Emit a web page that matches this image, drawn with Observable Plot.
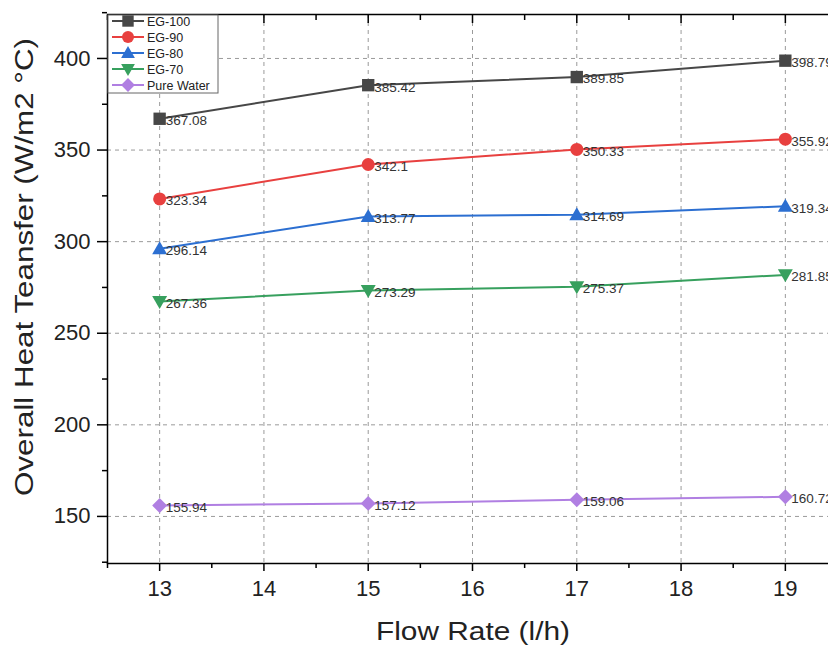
<!DOCTYPE html>
<html><head><meta charset="utf-8">
<script src="https://cdn.jsdelivr.net/npm/d3@7"></script>
<script src="https://cdn.jsdelivr.net/npm/@observablehq/plot@0.6"></script>
<style>
html,body{margin:0;padding:0;background:#fff;overflow:hidden;width:828px;height:647px}
#chart{position:relative;width:828px;height:647px;overflow:hidden}
#chart svg{max-width:none !important;}
</style></head><body><div id="chart"></div>
<script>
const flowRates = [13, 15, 17, 19];
const seriesNames = ["EG-100", "EG-90", "EG-80", "EG-70", "Pure Water"];
const eg100 = [367.08, 385.42, 389.85, 398.79];
const eg90 = [323.34, 342.1, 350.33, 355.92];
const eg80 = [296.14, 313.77, 314.69, 319.34];
const eg70 = [267.36, 273.29, 275.37, 281.85];
const pureWater = [155.94, 157.12, 159.06, 160.72];
const seriesColors = ["#474747", "#e8403f", "#2c6fd1", "#37a05e", "#b07fe2"];
const xTicks = [13, 14, 15, 16, 17, 18, 19];
const xMinor = [12.5, 13.5, 14.5, 15.5, 16.5, 17.5, 18.5, 19.5];
const yTicks = [150, 200, 250, 300, 350, 400];
const yMinor = [125, 175, 225, 275, 325, 375, 425];
const xTitle = "Flow Rate (l/h)";
const yTitle = "Overall Heat Teansfer (W/m2 °C)";

const seriesValues = [eg100, eg90, eg80, eg70, pureWater];

function rOf(size){ return Math.sqrt(size/Math.PI); }
const symSquare = {draw(ctx,size){const s=rOf(size)*0.95; ctx.rect(-s,-s,2*s,2*s);}};
const symCircle = {draw(ctx,size){const r=rOf(size); ctx.moveTo(r,0); ctx.arc(0,0,r,0,2*Math.PI);}};
const symTriUp = {draw(ctx,size){const r=rOf(size); ctx.moveTo(0,-r*1.15); ctx.lineTo(r*1.15,r*0.85); ctx.lineTo(-r*1.15,r*0.85); ctx.closePath();}};
const symTriDown = {draw(ctx,size){const r=rOf(size); ctx.moveTo(0,r*1.15); ctx.lineTo(r*1.15,-r*0.85); ctx.lineTo(-r*1.15,-r*0.85); ctx.closePath();}};
const symDiamond = {draw(ctx,size){const r=rOf(size)*1.15; ctx.moveTo(0,-r); ctx.lineTo(r,0); ctx.lineTo(0,r); ctx.lineTo(-r,0); ctx.closePath();}};
const symbols = [symSquare, symCircle, symTriUp, symTriDown, symDiamond];

const rows = seriesNames.flatMap((s,i)=>flowRates.map((x,j)=>({series:s, idx:i, x, y:seriesValues[i][j]})));

const font = "Liberation Sans, Arial, sans-serif";
const marks = [
  Plot.gridX(xTicks, {stroke:"#9a9a9a", strokeOpacity:1, strokeDasharray:"4,4", strokeWidth:1}),
  Plot.gridY(yTicks, {stroke:"#9a9a9a", strokeOpacity:1, strokeDasharray:"4,4", strokeWidth:1}),
];
seriesNames.forEach((s,i)=>{
  const d = rows.filter(r=>r.idx===i);
  marks.push(Plot.line(d, {x:"x", y:"y", stroke:seriesColors[i], strokeWidth:2}));
  marks.push(Plot.dot(d, {x:"x", y:"y", symbol:symbols[i], r:6.5, fill:seriesColors[i], stroke:"none"}));
  marks.push(Plot.text(d, {x:"x", y:"y", text:r=>String(r.y), dx:6, dy:2, textAnchor:"start", fontSize:13.5, fill:"#333", fontFamily:font}));
});
marks.push(
  Plot.axisX(xTicks, {anchor:"bottom", tickSize:8, tickPadding:9, fontSize:22, fontFamily:font, fill:"#222", stroke:"#000", strokeWidth:1.5, label:null}),
  Plot.axisX(xMinor, {anchor:"bottom", tickSize:5, text:null, stroke:"#000", strokeWidth:1.5, label:null}),
  Plot.axisX(xTicks, {anchor:"top", tickSize:-8, text:null, stroke:"#000", strokeWidth:1.5, label:null}),
  Plot.axisX(xMinor, {anchor:"top", tickSize:-5, text:null, stroke:"#000", strokeWidth:1.5, label:null}),
  Plot.axisY(yTicks, {anchor:"left", tickSize:10, tickPadding:7, fontSize:22, fontFamily:font, fill:"#222", stroke:"#000", strokeWidth:1.5, label:null}),
  Plot.axisY(yMinor, {anchor:"left", tickSize:5, text:null, stroke:"#000", strokeWidth:1.5, label:null}),
  Plot.frame({stroke:"#000", strokeWidth:1.5})
);

const chart = Plot.plot({
  width: 845, height: 647,
  marginLeft: 107, marginRight: 8, marginTop: 14, marginBottom: 84,
  x: {domain:[12.5, 19.5], label:null},
  y: {domain:[124.3, 424], label:null},
  style: {fontFamily: font, background:"#fff", overflow:"visible", maxWidth:"none"},
  marks
});
chart.style.maxWidth = "none";
document.getElementById("chart").appendChild(chart);

const svg = d3.select(chart);
// axis titles
svg.append("text").attr("x", 473).attr("y", 640).attr("text-anchor","middle")
  .attr("font-family", font).attr("font-size", 25).attr("fill","#222")
  .attr("textLength", 194).attr("lengthAdjust","spacingAndGlyphs").text(xTitle);
svg.append("text").attr("transform","translate(33,267) rotate(-90)").attr("text-anchor","middle")
  .attr("font-family", font).attr("font-size", 26).attr("fill","#222")
  .attr("textLength", 458).attr("lengthAdjust","spacingAndGlyphs").text(yTitle);

// legend
const lg = svg.append("g").attr("transform","translate(108,15)");
lg.append("rect").attr("width",110).attr("height",78).attr("fill","#fff").attr("stroke","#666").attr("stroke-width",1);
seriesNames.forEach((s,i)=>{
  const yy = 6 + i*16;
  const g = lg.append("g").attr("transform",`translate(0,${yy})`);
  g.append("line").attr("x1",4).attr("x2",36).attr("y1",0).attr("y2",0).attr("stroke",seriesColors[i]).attr("stroke-width",2);
  g.append("path").attr("transform","translate(20,0)").attr("fill",seriesColors[i])
    .attr("d", d3.symbol().type(symbols[i]).size(6*6*Math.PI)());
  g.append("text").attr("x",39).attr("y",4.5).attr("text-anchor","start").attr("font-family",font)
    .attr("font-size",12.5).attr("fill","#222").text(s);
});
</script></body></html>
